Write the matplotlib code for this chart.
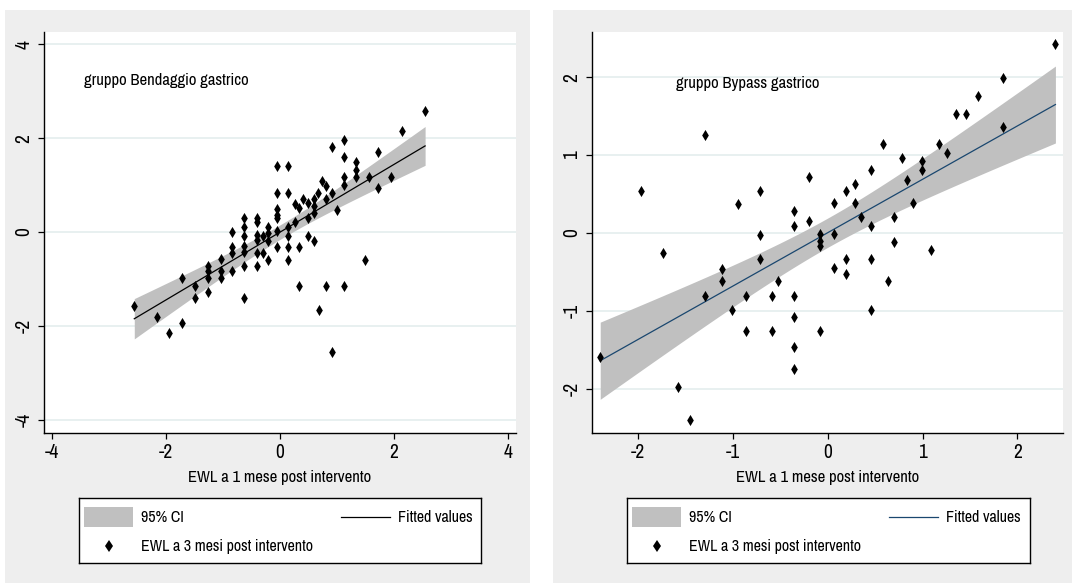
import numpy as np
import matplotlib.pyplot as plt
from matplotlib import font_manager
from matplotlib.patches import Rectangle

# EWL (z-score) a 1 mese / a 3 mesi, gruppo bendaggio gastrico
band_x = [2.55, 2.15, 1.12, 0.91, 1.12, 1.73, 1.34, 1.34, 1.34, 1.12,
          1.12, 1.56, 1.95, 1.73, -0.05, 0.14, -0.05, 0.14, -0.05, -0.05,
          -0.05, 0.73, 0.80, 0.66, 0.91, 0.80, 1.00, 0.26, 0.34, 0.41,
          0.49, 0.59, 0.59, 0.59, 0.49, 0.26, 0.14, -0.05, 0.14, 0.14,
          0.14, 0.34, 0.49, 0.59, -0.05, 1.50, 0.34, 0.80, 1.12, -0.21,
          -0.21, -0.21, -0.21, -0.29, -0.29, -0.41, -0.41, -0.41, -0.41, -0.41,
          -0.41, -0.63, -0.63, -0.63, -0.63, -0.63, -0.63, -0.63, -0.84, -0.84,
          -0.84, -0.84, -1.04, -1.04, -1.04, -1.27, -1.27, -1.27, -1.27, -1.49,
          -1.49, -1.73, -2.56, -2.16, -1.95, -1.73, 0.69, 0.91]
band_y = [2.58, 2.16, 1.95, 1.81, 1.60, 1.70, 1.50, 1.33, 1.18, 1.18,
          1.01, 1.18, 1.18, 0.93, 1.40, 1.40, 0.84, 0.84, 0.48, 0.37,
          0.30, 1.08, 0.97, 0.84, 0.84, 0.71, 0.46, 0.60, 0.51, 0.70,
          0.62, 0.70, 0.55, 0.40, 0.30, 0.21, 0.10, 0.03, -0.09, -0.32,
          -0.59, -0.32, -0.09, -0.20, -0.32, -0.59, -1.14, -1.14, -1.14, 0.10,
          -0.02, -0.20, -0.59, -0.09, -0.45, 0.30, 0.21, -0.07, -0.18, -0.45,
          -0.73, 0.30, 0.10, -0.09, -0.30, -0.43, -0.73, -1.40, 0.01, -0.31,
          -0.45, -0.84, -0.58, -0.84, -0.98, -0.73, -0.84, -0.98, -1.28, -1.14,
          -1.40, -0.98, -1.58, -1.80, -2.16, -1.94, -1.66, -2.55]

# EWL (z-score) a 1 mese / a 3 mesi, gruppo bypass gastrico
bypass_x = [2.40, 1.85, 1.85, 1.58, 1.35, 1.46, 1.17, 1.26, 0.58, 0.78,
            0.99, 0.99, 0.83, 0.90, 0.46, 0.29, 0.19, 0.06, 0.29, 0.35,
            0.46, 0.70, 0.70, 1.09, 0.63, 0.46, 0.19, 0.19, 0.06, 0.06,
            -0.08, -0.08, -0.08, -0.20, -0.20, -0.36, -0.36, -0.36, -0.53, -0.59,
            -0.72, -0.72, -0.72, -0.86, -0.95, -1.12, -1.12, -1.29, -1.29, -1.74,
            -1.97, -2.40, -1.58, -1.45, -1.01, -0.86, -0.59, -0.36, -0.36, -0.36,
            -0.08, 0.46]
bypass_y = [2.43, 1.99, 1.36, 1.76, 1.53, 1.53, 1.14, 1.02, 1.14, 0.96,
            0.92, 0.81, 0.68, 0.38, 0.81, 0.63, 0.54, 0.38, 0.38, 0.21,
            0.09, 0.21, -0.12, -0.22, -0.62, -0.33, -0.33, -0.53, -0.45, -0.02,
            -0.01, -0.10, -0.17, 0.72, 0.15, 0.28, 0.09, -0.81, -0.62, -0.81,
            0.54, -0.03, -0.33, -0.81, 0.37, -0.46, -0.62, 1.26, -0.81, -0.26,
            0.54, -1.59, -1.98, -2.40, -0.99, -1.26, -1.26, -1.08, -1.46, -1.75,
            -1.26, -0.99]

W, H = 1072, 583
BG = '#eeeeee'
GRID = '#e4eded'
CI_COLOR = '#c0c0c0'

narrow = [f.name for f in font_manager.fontManager.ttflist if 'Narrow' in f.name]
plt.rcParams['font.family'] = (narrow[:1] or ['Liberation Sans']) + ['DejaVu Sans']
plt.rcParams['axes.unicode_minus'] = False


def lfitci(x, y, npts=100):
    # linear fit with 95% CI of the prediction mean
    x = np.asarray(x)
    y = np.asarray(y)
    b, a = np.polyfit(x, y, 1)
    n = len(x)
    df = n - 2
    s = np.sqrt(np.sum((y - (a + b * x)) ** 2) / df)
    z = 1.959964
    t = z + (z ** 3 + z) / (4 * df) + (5 * z ** 5 + 16 * z ** 3 + 3 * z) / (96 * df ** 2)
    xs = np.linspace(x.min(), x.max(), npts)
    se = s * np.sqrt(1 / n + (xs - x.mean()) ** 2 / np.sum((x - x.mean()) ** 2))
    fit = a + b * xs
    return xs, fit, fit - t * se, fit + t * se


def px_axes(fig, x0, y0, x1, y1, **kw):
    return fig.add_axes([x0 / W, 1 - y1 / H, (x1 - x0) / W, (y1 - y0) / H], **kw)


fig = plt.figure(figsize=(W / 100, H / 100), dpi=100)

panels = [
    dict(x=band_x, y=band_y, region=(5, 10, 530, 583), plot=(43.8, 32, 515.6, 433),
         xlim=(-4.15, 4.14), ylim=(-4.28, 4.26), ticks=[-4, -2, 0, 2, 4],
         label='gruppo Bendaggio gastrico', label_xy=(-3.45, 3.23),
         line='black', legend=(78.6, 498, 481.4, 563)),
    dict(x=bypass_x, y=bypass_y, region=(553, 10, 1072, 583), plot=(591.7, 32, 1063, 433),
         xlim=(-2.49, 2.48), ylim=(-2.57, 2.58), ticks=[-2, -1, 0, 1, 2],
         label='gruppo Bypass gastrico', label_xy=(-1.60, 1.92),
         line='#1a476f', legend=(626.6, 498, 1030, 563)),
]

for p in panels:
    # grey graph region
    bg = px_axes(fig, *p['region'])
    bg.set_facecolor(BG)
    bg.set_xticks([])
    bg.set_yticks([])
    for sp in bg.spines.values():
        sp.set_visible(False)

    ax = px_axes(fig, *p['plot'])
    ax.set_facecolor('white')
    xs, fit, lo, hi = lfitci(p['x'], p['y'])
    ax.fill_between(xs, lo, hi, color=CI_COLOR, lw=0, zorder=2)
    ax.plot(xs, fit, color=p['line'], lw=0.9, zorder=3)
    ax.scatter(p['x'], p['y'], marker='d', s=32, color='black', lw=0, zorder=4)
    ax.set_xlim(*p['xlim'])
    ax.set_ylim(*p['ylim'])
    ax.set_xticks(p['ticks'])
    ax.set_yticks(p['ticks'])
    ax.grid(axis='y', color=GRID, lw=1.2, zorder=0)
    ax.set_axisbelow(True)
    for s in ['top', 'right']:
        ax.spines[s].set_visible(False)
    for s in ['left', 'bottom']:
        ax.spines[s].set_linewidth(1.0)
    ax.tick_params(length=4.5, width=0.9, labelsize=14, pad=3)
    for lab in ax.get_yticklabels():
        lab.set_rotation(90)
        lab.set_va('center')
    ax.text(*p['label_xy'], p['label'], fontsize=12, va='center', ha='left', zorder=5)
    ax.text(0.5, -0.11, 'EWL a 1 mese post intervento', transform=ax.transAxes,
            fontsize=12, ha='center', va='center')

    # legend box
    lx0, ly0, lx1, ly1 = p['legend']
    lg = px_axes(fig, lx0, ly0, lx1, ly1)
    lg.set_xlim(0, lx1 - lx0)
    lg.set_ylim(ly1 - ly0, 0)
    lg.set_xticks([])
    lg.set_yticks([])
    for sp in lg.spines.values():
        sp.set_linewidth(1.0)
    lg.add_patch(Rectangle((5.6, 9), 49.2, 20, color=CI_COLOR, lw=0))
    lg.text(62.5, 19, '95% CI', fontsize=11.5, va='center', ha='left')
    lg.plot([262.8, 311.8], [19, 19], color=p['line'], lw=0.9)
    lg.text(319.3, 19, 'Fitted values', fontsize=11.5, va='center', ha='left')
    lg.plot([30.3], [48], marker='d', ms=6, color='black', mew=0)
    lg.text(62.5, 48, 'EWL a 3 mesi post intervento', fontsize=11.5, va='center', ha='left')

fig.savefig('out.png', dpi=100)
